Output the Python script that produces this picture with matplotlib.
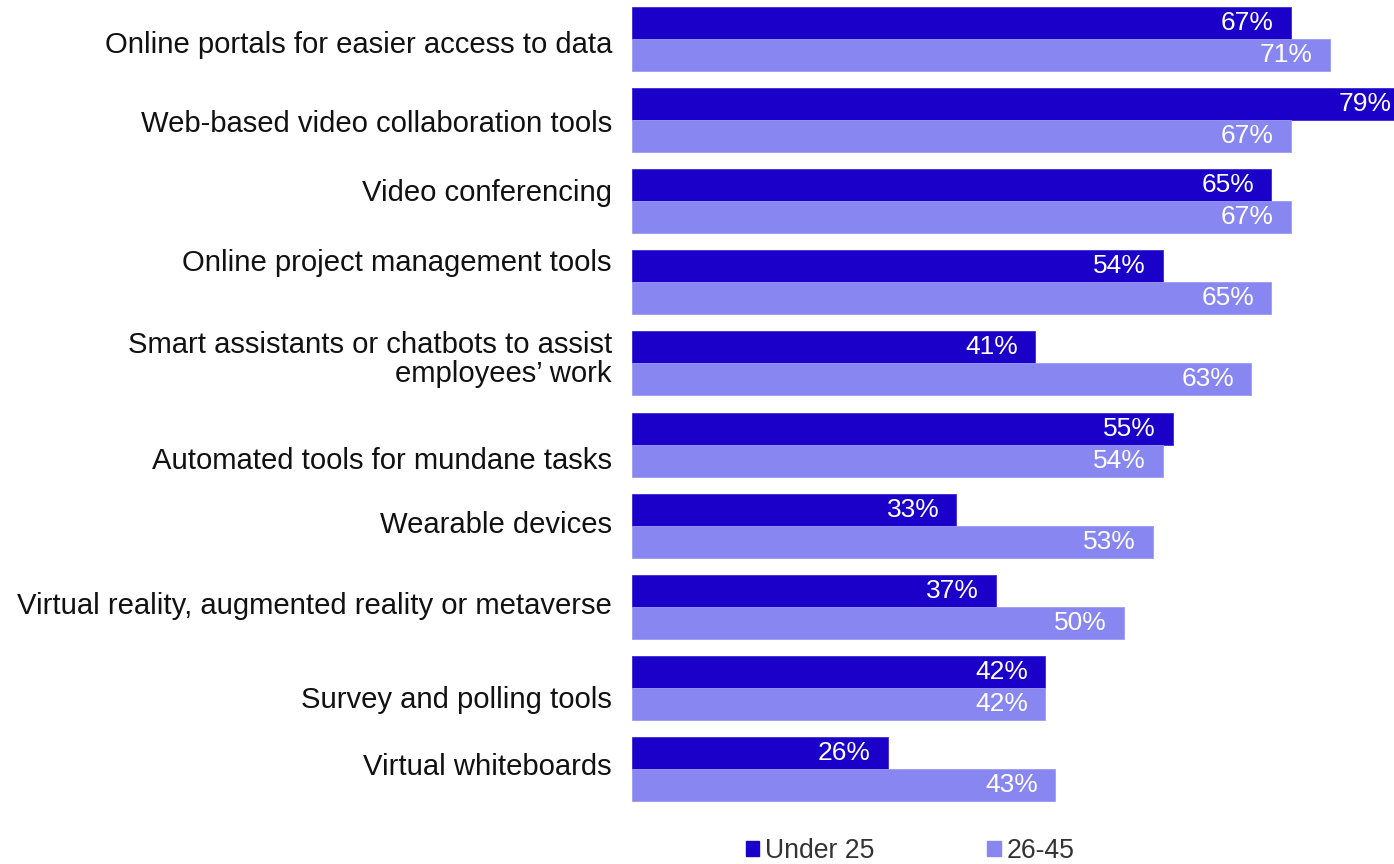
import matplotlib
matplotlib.use("Agg")
import matplotlib.pyplot as plt
import matplotlib.transforms as mtransforms
from matplotlib.patches import Patch

plt.rcParams['font.family'] = ['Liberation Sans', 'DejaVu Sans']

categories = [
    "Online portals for easier access to data",
    "Web-based video collaboration tools",
    "Video conferencing",
    "Online project management tools",
    "Smart assistants or chatbots to assist\nemployees\u2019 work",
    "Automated tools for mundane tasks",
    "Wearable devices",
    "Virtual reality, augmented reality or metaverse",
    "Survey and polling tools",
    "Virtual whiteboards",
]
under25 = [67, 79, 65, 54, 41, 55, 33, 37, 42, 26]
age26_45 = [71, 67, 67, 65, 63, 54, 53, 50, 42, 43]
series_names = ["Under 25", "26-45"]

# layout: vertical offset (pixels, downward) of each category label's last baseline
# relative to the group centre, as placed in the original slide
label_baseline_dy = [14, 12, 0, -11, 19, 24, 7, 7, 20, 6]

dark = "#1A00C8"
light = "#8886F0"

W, H = 1394, 864
DPI = 100
fig = plt.figure(figsize=(W / DPI, H / DPI), dpi=DPI)
px_per_unit = 9.83
x_left = 632
xmax = 80
ax = fig.add_axes([x_left / W, 1 - 809.5 / H, xmax * px_per_unit / W, 811 / H])

ys = list(range(len(categories)))
bh = 0.395
b1 = ax.barh([y - bh / 2 for y in ys], under25, height=bh, color=dark,
             edgecolor="#3A2AD8", linewidth=0.6)
b2 = ax.barh([y + bh / 2 for y in ys], age26_45, height=bh, color=light,
             edgecolor="#9C9AF4", linewidth=0.6)

for bars, vals in ((b1, under25), (b2, age26_45)):
    for rect, v in zip(bars, vals):
        ax.annotate(f"{v}%", xy=(rect.get_width(), rect.get_y() + rect.get_height() / 2),
                    xytext=(-12.2, 0), textcoords="offset points",
                    ha="right", va="center", color="white", fontsize=19)

ax.set_xlim(0, xmax)
ax.set_ylim(len(categories) - 0.5, -0.5)
ax.set_yticks([])
ax.set_xticks([])
for s in ax.spines.values():
    s.set_visible(False)

base = mtransforms.blended_transform_factory(ax.transAxes, ax.transData)
for y, lab, dy in zip(ys, categories, label_baseline_dy):
    tr = base + mtransforms.ScaledTranslation(-20 / DPI, -dy / DPI, fig.dpi_scale_trans)
    ax.text(0, y, lab, transform=tr, ha="right", va="baseline", multialignment="right",
            fontsize=21.1, color="#111111", linespacing=1.05)

handles = [Patch(facecolor=dark, edgecolor=dark), Patch(facecolor=light, edgecolor=light)]
fig.legend(handles, series_names, loc="center left", bbox_to_anchor=(746 / W, 1 - 851 / H),
           ncol=2, frameon=False, fontsize=19.2, handlelength=0.5, handleheight=0.5,
           handletextpad=0.22, columnspacing=4.22, labelcolor="#333333",
           borderpad=0, borderaxespad=0)

fig.savefig("out.png", dpi=DPI)
